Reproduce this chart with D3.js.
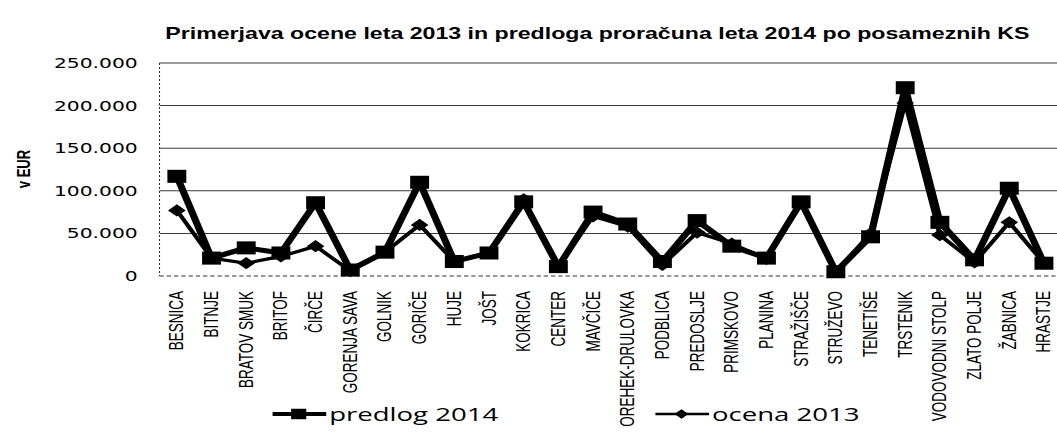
<!DOCTYPE html>
<html lang="sl">
<head>
    <meta charset="UTF-8">
    <script src="https://d3js.org/d3.v7.min.js"></script>
    <title>Primerjava ocene 2013 in predloga 2014</title>
    <style>
        body {
            margin: 0;
            background-color: #ffffff;
        }
        svg {
            display: block;
        }
        .grid line {
            stroke: #3a3a3a;
            stroke-width: 1px;
        }
    </style>
</head>
<body>
    <div id="chart"></div>

    <script>
        const categories = ["BESNICA", "BITNJE", "BRATOV SMUK", "BRITOF", "ČIRČE", "GORENJA SAVA", "GOLNIK",
            "GORIČE", "HUJE", "JOŠT", "KOKRICA", "CENTER", "MAVČIČE", "OREHEK-DRULOVKA", "PODBLICA",
            "PREDOSLJE", "PRIMSKOVO", "PLANINA", "STRAŽIŠČE", "STRUŽEVO", "TENETIŠE", "TRSTENIK",
            "VODOVODNI STOLP", "ZLATO POLJE", "ŽABNICA", "HRASTJE"];

        const predlog2014 = [117000, 21000, 33000, 27000, 86000, 7000, 28000, 110000, 17000, 27000,
            87000, 11000, 75000, 61000, 17000, 65000, 35000, 21000, 87000, 5000, 46000, 221000,
            63000, 19000, 103000, 15000];

        const ocena2013 = [77000, 21000, 15000, 23000, 35000, 6000, 28000, 60000, 17000, 27000,
            90000, 11000, 70000, 58000, 13000, 51000, 38000, 20000, 85000, 5000, 50000, 203000,
            48000, 16000, 63000, 15000];

        const yTicks = [0, 50000, 100000, 150000, 200000, 250000];

        const chartTitle = "Primerjava ocene leta 2013 in predloga proračuna leta 2014 po posameznih KS";
        const seriesNames = ["predlog 2014", "ocena 2013"];

        // the original picture is stretched sideways, so draw in a narrower box and stretch it
        const stretch = 1.45;
        const svgWidth = 1057;
        const svgHeight = 432;
        const W = svgWidth / stretch;

        const svg = d3.select("#chart").append("svg")
            .attr("width", svgWidth)
            .attr("height", svgHeight)
            .attr("viewBox", `0 0 ${W} ${svgHeight}`)
            .attr("preserveAspectRatio", "none");

        const left = 110;
        const step = 23.92;

        const x = d3.scalePoint()
            .domain(categories)
            .range([left, left + step * categories.length])
            .padding(0.5);

        const y = d3.scaleLinear()
            .domain([0, 250000])
            .range([276, 63]);

        const fmt = v => d3.format(",")(v).replace(/,/g, ".");

        // title
        svg.append("text")
            .attr("x", 412)
            .attr("y", 39)
            .attr("text-anchor", "middle")
            .attr("textLength", 596)
            .attr("lengthAdjust", "spacingAndGlyphs")
            .style("font-family", "'Liberation Sans', Arial, sans-serif")
            .style("font-weight", "bold")
            .style("font-size", "16px")
            .text(chartTitle);

        // gridlines
        svg.append("g")
            .attr("class", "grid")
            .selectAll("line")
            .data(yTicks.filter(d => d > 0))
            .enter()
            .append("line")
            .attr("x1", left)
            .attr("x2", W)
            .attr("y1", d => y(d))
            .attr("y2", d => y(d));

        // left and bottom edges (dotted in the original)
        svg.append("line")
            .attr("x1", left).attr("x2", left)
            .attr("y1", y(250000)).attr("y2", y(0))
            .attr("stroke", "#333")
            .attr("stroke-width", 0.8)
            .attr("stroke-dasharray", "2,2");

        svg.append("line")
            .attr("x1", left).attr("x2", W)
            .attr("y1", y(0)).attr("y2", y(0))
            .attr("stroke", "#333")
            .attr("stroke-width", 1)
            .attr("stroke-dasharray", "3,2");

        // y axis labels
        const yAxis = d3.axisLeft(y)
            .tickValues(yTicks)
            .tickFormat(fmt)
            .tickSize(0)
            .tickPadding(15);

        svg.append("g")
            .attr("transform", `translate(${left},0)`)
            .call(yAxis)
            .call(g => g.select(".domain").remove())
            .selectAll("text")
            .style("font-family", "'DejaVu Sans', Verdana, sans-serif")
            .style("font-size", "14px")
            .attr("fill", "#000");

        svg.append("text")
            .attr("transform", "translate(21,169) rotate(-90)")
            .attr("text-anchor", "middle")
            .style("font-family", "'Liberation Sans', Arial, sans-serif")
            .style("font-weight", "bold")
            .style("font-size", "13px")
            .text("v EUR");

        // category labels
        svg.append("g")
            .selectAll("text")
            .data(categories)
            .enter()
            .append("text")
            .attr("transform", d => `translate(${x(d) + 4.5},291) rotate(-90)`)
            .attr("text-anchor", "end")
            .style("font-family", "'Liberation Sans Narrow', 'Liberation Sans', Arial, sans-serif")
            .style("font-size", "13.5px")
            .text(d => d);

        // series
        const line = d3.line()
            .x((d, i) => x(categories[i]))
            .y(d => y(d));

        const square = d3.symbol().type(d3.symbolSquare).size(170);
        const diamond = d3.symbol().type(d3.symbolDiamond2).size(95);

        const series = [
            { name: seriesNames[0], values: predlog2014, width: 5, marker: square },
            { name: seriesNames[1], values: ocena2013, width: 3.2, marker: diamond }
        ];

        series.forEach(s => {
            svg.append("path")
                .datum(s.values)
                .attr("fill", "none")
                .attr("stroke", "#000")
                .attr("stroke-width", s.width)
                .attr("stroke-linejoin", "round")
                .attr("d", line);

            svg.append("g")
                .selectAll("path")
                .data(s.values)
                .enter()
                .append("path")
                .attr("transform", (d, i) => `translate(${x(categories[i])},${y(d)})`)
                .attr("d", s.marker())
                .attr("fill", "#000");
        });

        // legend
        const legendX = [188, 452];
        series.forEach((s, i) => {
            const lg = svg.append("g")
                .attr("transform", `translate(${legendX[i]},414)`);

            lg.append("line")
                .attr("x1", 0).attr("x2", 37)
                .attr("stroke", "#000")
                .attr("stroke-width", s.width - 0.8);

            lg.append("path")
                .attr("transform", "translate(18,0)")
                .attr("d", i === 0 ? d3.symbol().type(d3.symbolSquare).size(110)() : d3.symbol().type(d3.symbolDiamond2).size(60)())
                .attr("fill", "#000");

            lg.append("text")
                .attr("x", 39)
                .attr("y", 7)
                .style("font-family", "'Open Sans', sans-serif")
                .style("font-size", "19px")
                .text(s.name);
        });
    </script>
</body>
</html>
